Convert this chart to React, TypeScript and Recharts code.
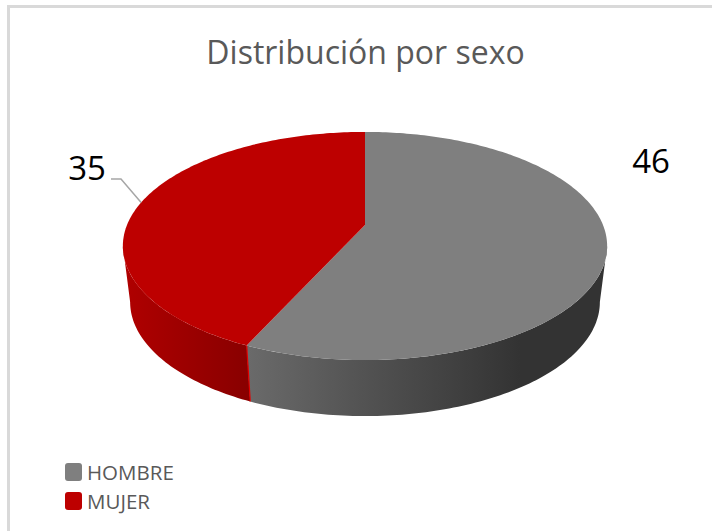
import { Pie, PieChart } from "recharts";

const CATEGORIES = ["HOMBRE", "MUJER"];
const VALUES = [46, 35];
const TITLE = "Distribución por sexo";

const TOP_COLORS = ["#7f7f7f", "#bd0000"];
const WALL_GRADIENTS = ["wallGrey", "wallRed"];
const FONT = "'Open Sans', sans-serif";

const pieData = CATEGORIES.map((name, i) => ({
  name,
  value: VALUES[i],
  fill: TOP_COLORS[i],
}));

// the pie is tilted with some perspective, so the front looks bigger
const TILT = 0.463;
const PERSPECTIVE = 0.184;
const DEPTH = 56;
const BOTTOM_SHRINK = 0.97;
const VISIBLE_FROM = -10.6;
const VISIBLE_TO = -169.4;

function project(cx: number, cy: number, r: number, deg: number) {
  const a = (deg * Math.PI) / 180;
  const u = Math.cos(a);
  const s = -Math.sin(a);
  const w = 1 - PERSPECTIVE * s;
  return { x: cx + (r * u) / w, y: cy + (r * TILT * s) / w };
}

function arcPoints(cx: number, cy: number, r: number, from: number, to: number) {
  const steps = Math.max(2, Math.ceil(Math.abs(to - from)));
  const pts = [];
  for (let i = 0; i <= steps; i++) {
    pts.push(project(cx, cy, r, from + ((to - from) * i) / steps));
  }
  return pts;
}

function toPath(pts: { x: number; y: number }[]) {
  return pts.map((p, i) => `${i ? "L" : "M"}${p.x.toFixed(2)} ${p.y.toFixed(2)}`).join(" ");
}

function Slice3D(props: any) {
  const { cx, cy, outerRadius, startAngle, endAngle, fill, index } = props;
  const top = arcPoints(cx, cy, outerRadius, startAngle, endAngle);
  const topPath = `M${cx} ${cy} ${toPath(top).replace("M", "L")} Z`;

  const from = Math.min(startAngle, VISIBLE_FROM);
  const to = Math.max(endAngle, VISIBLE_TO);
  const upper = arcPoints(cx, cy, outerRadius, from, to);
  const lower = upper
    .map((p) => ({ x: cx + (p.x - cx) * BOTTOM_SHRINK, y: p.y + DEPTH }))
    .reverse();

  return (
    <g>
      <path d={`${toPath(upper)} ${toPath(lower).replace("M", "L")} Z`} fill={`url(#${WALL_GRADIENTS[index]})`} />
      {index === 1 && (
        <path d={toPath([upper[0], lower[lower.length - 1]])} stroke="#e00000" strokeWidth={1.2} fill="none" />
      )}
      <path d={topPath} fill={fill} />
    </g>
  );
}

function SliceLabel(props: any) {
  const { cx, cy, outerRadius, midAngle, value, index } = props;
  const dx = index === 0 ? 286 : -278;
  const dy = index === 0 ? -65 : -58;
  const end = project(cx, cy, outerRadius, midAngle);
  return (
    <g>
      {index === 1 && (
        <polyline
          points={`${cx + dx + 24},${cy + dy + 12} ${cx + dx + 34},${cy + dy + 12} ${end.x},${end.y}`}
          fill="none"
          stroke="#a6a6a6"
          strokeWidth={1.5}
        />
      )}
      <text
        x={cx + dx}
        y={cy + dy}
        textAnchor="middle"
        dominantBaseline="central"
        fontFamily={FONT}
        fontSize={33}
        fill="#000000"
      >
        {value}
      </text>
    </g>
  );
}

export default function App() {
  return (
    <div style={{ position: "absolute", left: 0, top: 0, width: 712, height: 531, overflow: "hidden", background: "#ffffff" }}>
      <div
        style={{
          position: "absolute",
          left: 7,
          top: 5,
          width: 705,
          height: 526,
          boxSizing: "border-box",
          borderTop: "3px solid #d9d9d9",
          borderLeft: "3px solid #d9d9d9",
        }}
      />
      <div
        style={{
          position: "absolute",
          left: 0,
          width: 731,
          top: 30,
          textAlign: "center",
          fontFamily: FONT,
          fontSize: 32,
          color: "#595959",
          whiteSpace: "nowrap",
        }}
      >
        {TITLE}
      </div>
      <div style={{ position: "absolute", left: 0, top: 0 }}>
        <PieChart width={712} height={531} margin={{ top: 0, right: 0, bottom: 0, left: 0 }}>
          <defs>
            <linearGradient id="wallRed" gradientUnits="userSpaceOnUse" x1="123" y1="0" x2="250" y2="0">
              <stop offset="0" stopColor="#b00000" />
              <stop offset="1" stopColor="#880000" />
            </linearGradient>
            <linearGradient id="wallGrey" gradientUnits="userSpaceOnUse" x1="248" y1="0" x2="520" y2="0">
              <stop offset="0" stopColor="#6a6a6a" />
              <stop offset="1" stopColor="#333333" />
            </linearGradient>
          </defs>
          <Pie
            data={pieData}
            dataKey="value"
            nameKey="name"
            cx={365}
            cy={225}
            outerRadius={238}
            startAngle={90}
            endAngle={-270}
            stroke="none"
            isAnimationActive={false}
            shape={Slice3D}
            label={SliceLabel}
            labelLine={false}
          />
        </PieChart>
      </div>
      {CATEGORIES.map((name, i) => (
        <div
          key={name}
          style={{
            position: "absolute",
            left: 65,
            top: 463 + i * 29,
            height: 18,
            display: "flex",
            alignItems: "center",
            gap: 5,
            fontFamily: FONT,
            fontSize: 20.5,
            color: "#595959",
          }}
        >
          <span style={{ width: 17, height: 18, borderRadius: 3, background: TOP_COLORS[i], display: "inline-block" }} />
          {name}
        </div>
      ))}
    </div>
  );
}
